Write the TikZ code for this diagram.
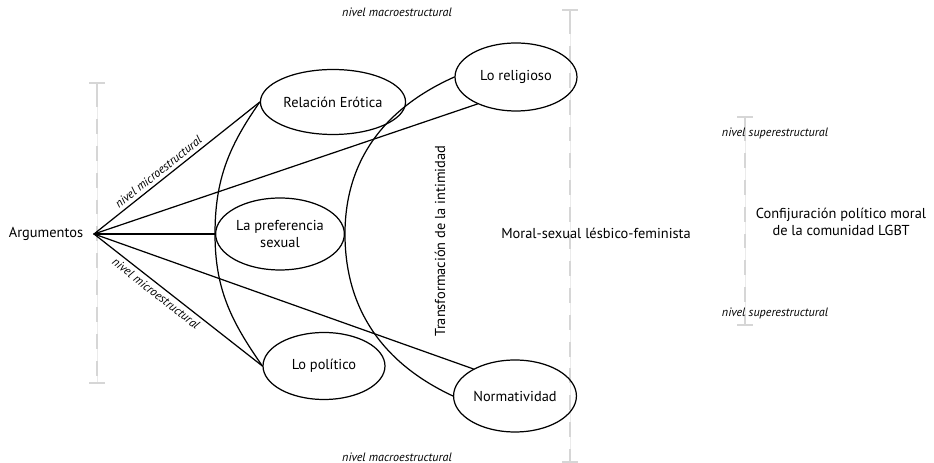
\documentclass[tikz,border=0pt]{standalone}
\usepackage{fontspec}
\setmainfont{PT Sans}
\usetikzlibrary{shapes.geometric}
\definecolor{lvlgray}{HTML}{D6D6D6}
\begin{document}
\begin{tikzpicture}[x=0.02cm, y=0.02cm, line join = round, line cap = round, font=\fontsize{8.2}{10}\selectfont,
	cat/.style={draw, ellipse, line width=0.7pt, minimum width=2.44cm, minimum height=1.36cm, align=center, inner sep=1pt},
	lvl/.style={font=\fontsize{6.9}{8}\selectfont\itshape, inner sep=1pt},
	link/.style={line width=0.7pt}]
	\useasboundingbox (0,0) rectangle (934,463);
	%\tikzset{cat/.append style={fill=white}}
	\foreach \x/\ya/\yb in {97/380/80, 570/453/1, 745/346/138} {
		\draw[lvlgray!50, line width=0.3pt] (\x,\ya) -- (\x,\yb);
		\draw[lvlgray, line width=1.3pt, line cap=butt, dash pattern=on 8.5pt off 6.8pt] (\x,\ya-9) -- (\x,\yb);
		\draw[lvlgray, line width=1.6pt, line cap=butt] (\x-8,\ya) -- (\x+8,\ya) (\x,\ya) -- (\x,\ya-9) (\x-8,\yb) -- (\x+8,\yb);
	}
	\node[anchor=east, inner sep=6pt] (arg) at (94,229) {Argumentos};
	\node[cat, minimum height=1.3cm] (rel) at (333,361) {Relación Erótica};
	\node[cat] (relig) at (516,386) {Lo religioso};
	\node[cat, minimum height=1.44cm] (pref) at (280,229) {La preferencia\\sexual};
	\node[cat, minimum height=1.34cm] (pol) at (324,97) {Lo político};
	\node[cat, minimum height=1.44cm] (norm) at (515,67) {Normatividad};
	\draw[link] (arg.east) -- (rel.west) node[lvl, inner sep=2pt, pos=0.42, sloped, above]{nivel microestructural};
	\draw[link] (arg.east) -- (relig.215);
	\draw[link] (arg.east) -- (pref.west);
	\draw[link] (arg.east) -- (norm.147);
	\draw[link] (arg.east) -- (pol.west) node[lvl, inner sep=2pt, pos=0.4, sloped, below]{nivel microestructural};
	\draw[link] (rel.west) to[out=235, in=90] (pref.west) to[out=-90, in=125] (pol.west);
	\draw[link] (relig.west) to[out=204, in=90] (pref.east) to[out=-90, in=155] (norm.west);
	\node[lvl] (macrotop) at (397,451) {nivel macroestructural};
	\node[lvl] (macrobot) at (397,6) {nivel macroestructural};
	\node[lvl] (supertop) at (775,330) {nivel superestructural};
	\node[lvl] (superbot) at (775,150) {nivel superestructural};
	\node[rotate=90] (trans) at (440,222) {Transformación de la intimidad};
	\node (moral) at (596,230) {Moral-sexual lésbico-feminista};
	\node[align=center] (lgbt) at (841,241) {Confijuración político moral\\de la comunidad LGBT};
\end{tikzpicture}
\end{document}
